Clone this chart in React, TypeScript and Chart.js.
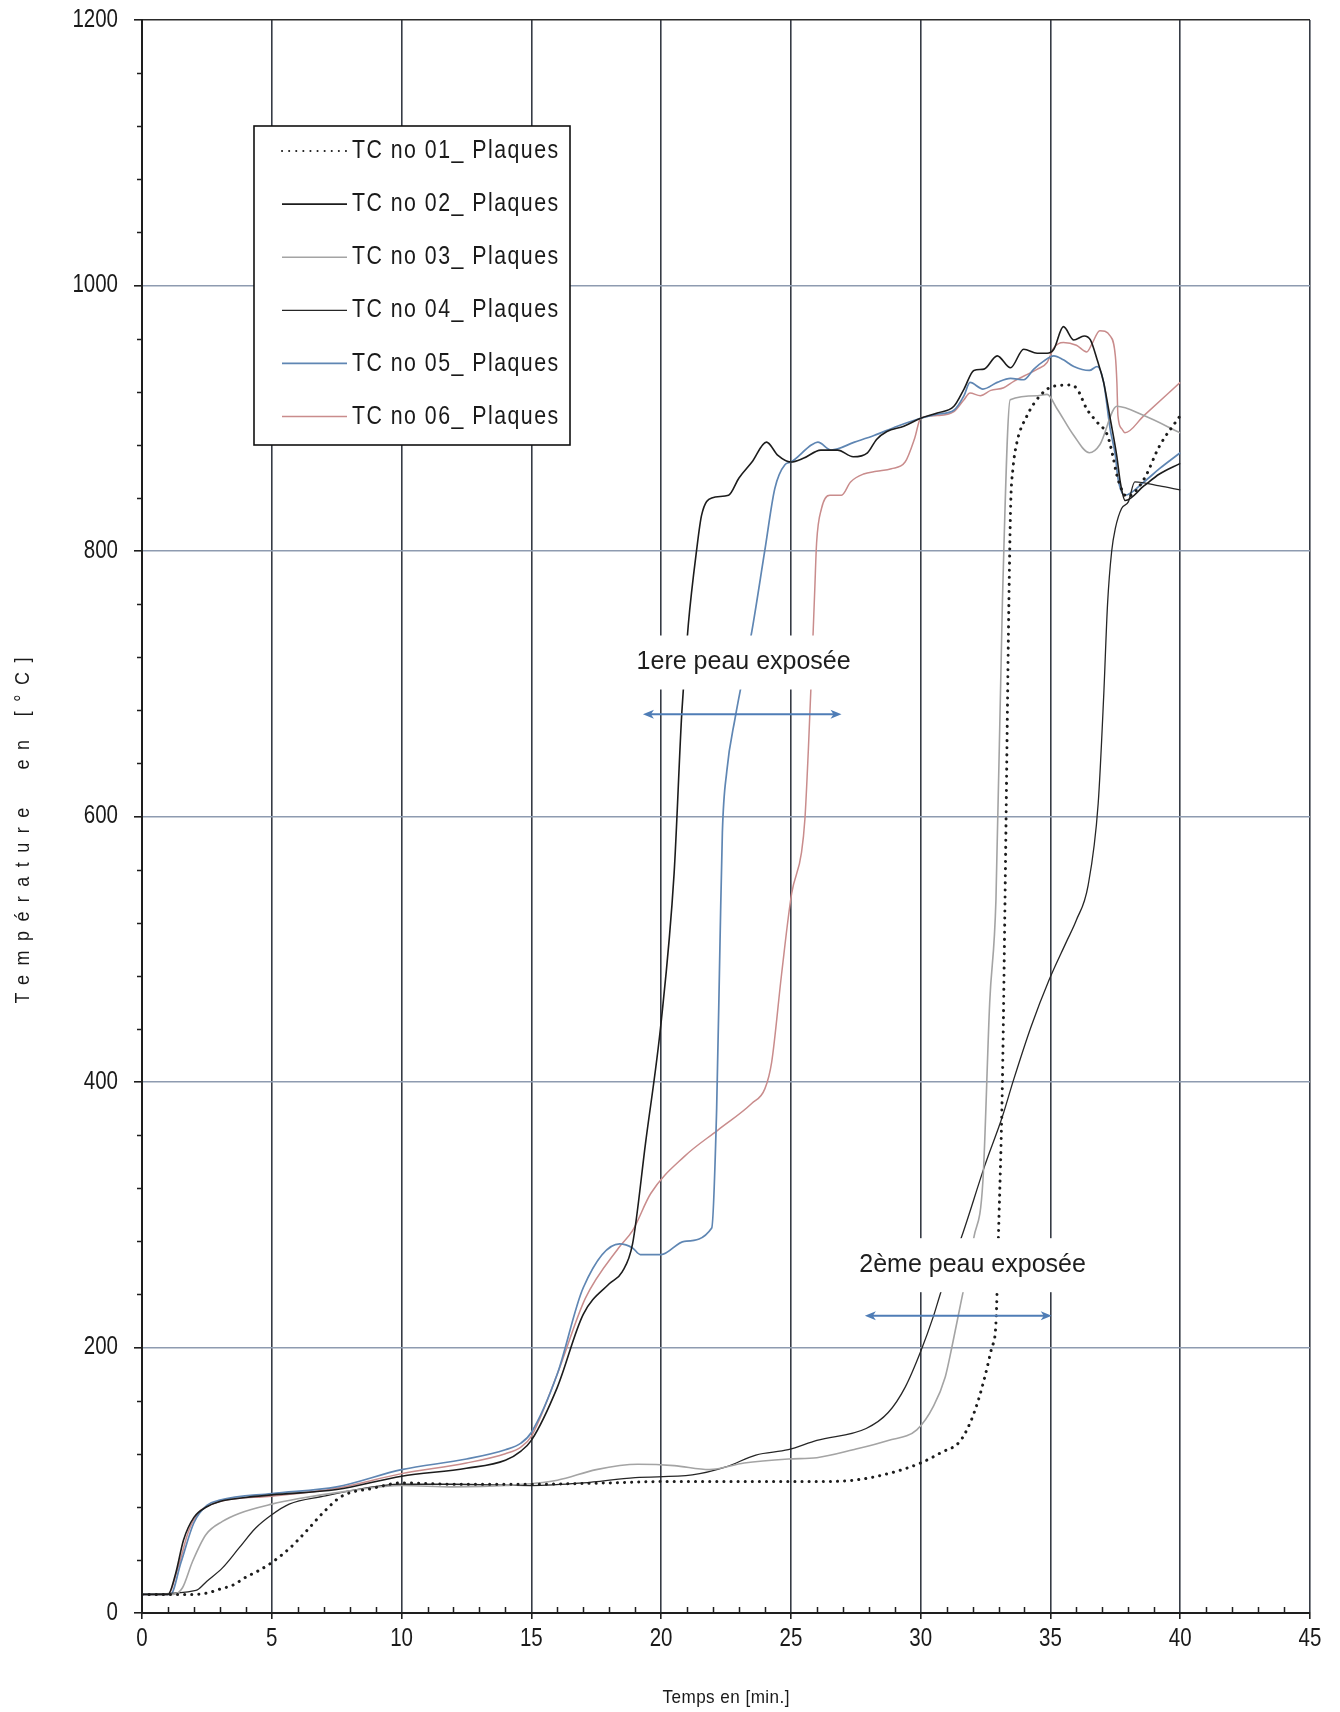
import React, { useEffect, useRef } from 'react';
import { Chart, registerables } from 'chart.js';

Chart.register(...registerables);

// ---- Series: time [min] / temperature [°C] ----
const tc01Time = [0, 1, 2, 2.5, 3, 3.5, 4, 4.5, 5, 5.7, 6.3, 7, 7.7, 8.9, 10, 12, 15, 18, 20, 24, 26, 27.4, 28.75, 30, 30.8, 31.5, 31.9, 32.2, 32.5, 32.74, 32.9, 33.0, 33.15, 33.25, 33.4, 33.47, 33.55, 33.7, 34.1, 34.6, 35.1, 35.77, 36.03, 36.4, 36.8, 37.2, 37.4, 37.56, 37.8, 37.95, 38.6, 39.2, 40];
const tc01Temp = [14, 14, 14, 15, 18, 21, 27, 32, 38, 49, 61, 76, 88, 94, 98, 97, 97, 98, 99, 99, 99, 100, 105, 113, 121, 129, 143, 159, 180, 200, 218, 286, 400, 537, 762, 836, 861, 881, 902, 917, 924, 925, 922, 907, 897, 887, 872, 857, 844, 841, 854, 879, 902];

const tc02Time = [0, 1, 1.3, 1.6, 2, 2.5, 3, 4, 5, 7.5, 10, 12.5, 14, 14.6, 15, 16, 17, 18, 18.5, 18.9, 19.4, 20, 20.5, 20.8, 21.05, 21.37, 21.56, 21.95, 22.6, 23, 23.5, 24.06, 24.5, 25, 25.5, 26.15, 26.8, 27.4, 27.95, 28.3, 28.7, 29.35, 30, 30.64, 31.28, 31.67, 32.05, 32.44, 32.95, 33.46, 33.97, 34.49, 34.87, 35.13, 35.5, 35.9, 36.3, 36.54, 36.8, 37.05, 37.3, 37.56, 37.69, 37.88, 38.6, 39.2, 40];
const tc02Temp = [14, 14, 30, 55, 72, 80, 84, 87, 89, 93, 103, 109, 115, 122, 130, 170, 225, 248, 257, 278, 354, 445, 557, 679, 745, 801, 827, 840, 842, 855, 867, 882, 872, 867, 870, 876, 876, 871, 874, 884, 890, 894, 900, 904, 909, 922, 936, 937, 947, 938, 952, 949, 949, 952, 969, 959, 962, 959, 944, 927, 900, 871, 852, 838, 849, 858, 866];

const tc03Time = [0, 1.2, 1.56, 1.95, 2.46, 3.1, 3.74, 5, 6, 8, 10, 12, 14, 16, 17.5, 19.1, 20.5, 21.86, 23.2, 24.9, 26, 27.4, 28.75, 29.85, 30.5, 30.95, 31.2, 31.5, 32.05, 32.4, 32.66, 32.9, 33.15, 33.45, 34.5, 34.87, 35.26, 35.9, 36.5, 36.9, 37.56, 38.6, 40];
const tc03Temp = [14, 14, 19, 39, 59, 69, 75, 82, 86, 92, 96, 95, 96, 100, 108, 112, 111, 108, 113, 116, 117, 123, 130, 138, 156, 178, 200, 229, 283, 326, 460, 537, 762, 914, 917, 918, 907, 887, 874, 880, 909, 902, 889];

const tc04Time = [0, 2.08, 2.5, 3.1, 3.74, 4.38, 5, 5.67, 7, 8, 10, 12, 15, 17, 19, 21.2, 22.5, 23.65, 24.9, 26, 27.9, 28.75, 29.4, 30, 30.5, 30.8, 31.57, 32.47, 33.15, 33.57, 34.26, 34.95, 35.6, 36.0, 36.45, 36.84, 37.05, 37.2, 37.36, 37.5, 37.74, 38, 38.25, 39.2, 40];
const tc04Temp = [14, 17, 24, 34, 49, 64, 74, 82, 88, 92, 97, 97, 96, 98, 102, 104, 110, 119, 123, 130, 139, 151, 170, 197, 224, 243, 283, 337, 374, 401, 442, 477, 505, 522, 548, 610, 690, 760, 800, 817, 832, 837, 852, 849, 846];

const tc05Time = [0, 1.1, 1.5, 2, 2.5, 3, 5, 7.5, 10, 12.5, 14, 14.6, 15, 16, 17, 18.4, 18.9, 19.2, 20, 20.9, 21.95, 22.14, 22.27, 22.36, 22.53, 22.85, 23.5, 24, 24.38, 24.77, 25, 25.8, 26.04, 26.55, 27.45, 28.2, 29.1, 30, 30.64, 31.28, 31.67, 31.9, 32.4, 32.95, 33.46, 33.97, 34.36, 34.74, 35.13, 35.5, 35.9, 36.5, 36.8, 37.05, 37.3, 37.5, 37.6, 37.87, 38.6, 39.2, 40];
const tc05Temp = [14, 14, 38, 68, 81, 85, 90, 95, 108, 116, 123, 128, 136, 180, 245, 278, 275, 270, 270, 280, 290, 380, 506, 588, 634, 674, 740, 801, 847, 865, 867, 880, 882, 876, 882, 887, 894, 900, 903, 906, 917, 927, 922, 927, 930, 929, 937, 943, 947, 944, 939, 936, 939, 927, 892, 872, 855, 842, 852, 862, 874];

const tc06Time = [0, 1, 1.4, 1.8, 2.2, 2.7, 3.2, 5, 7.5, 10, 12.5, 14, 14.6, 15, 16, 17.08, 18.36, 18.9, 19.6, 20.9, 22.2, 23.5, 24, 24.26, 24.64, 25.03, 25.41, 25.54, 25.67, 25.8, 25.92, 25.99, 26.18, 26.5, 26.95, 27.3, 27.8, 28.3, 28.87, 29.4, 29.77, 30, 30.64, 31.28, 31.67, 31.9, 32.3, 32.7, 33.2, 33.6, 34.0, 34.5, 34.87, 35.13, 35.5, 36.0, 36.4, 36.6, 36.9, 37.3, 37.5, 37.56, 37.6, 37.75, 37.87, 38.6, 40];
const tc06Temp = [14, 14, 35, 62, 76, 82, 85, 88, 94, 105, 113, 120, 125, 133, 180, 237, 275, 288, 316, 344, 364, 384, 395, 415, 481, 542, 573, 598, 649, 710, 771, 806, 832, 842, 842, 852, 858, 860, 862, 867, 885, 900, 902, 905, 914, 919, 917, 921, 923, 928, 932, 937, 942, 953, 957, 955, 950, 956, 966, 962, 947, 927, 902, 892, 889, 902, 927];

const seriesLabels = ['TC no 01_ Plaques', 'TC no 02_ Plaques', 'TC no 03_ Plaques', 'TC no 04_ Plaques', 'TC no 05_ Plaques', 'TC no 06_ Plaques'];

// ---- Axes ----
const xMin = 0, xMax = 45, xStep = 5, xMinorStep = 1;
const yMin = 0, yMax = 1200, yStep = 200, yMinorStep = 40;
const xTitle = 'Temps en [min.]';
const yTitle = 'Température  en [°C]';

// ---- Notes on the plot ----
const noteLabels = ['1ere peau exposée', '2ème peau exposée'];
const noteTextTime = [23.18, 32.0];
const noteTextTemp = [716, 262];
const noteArrowFrom = [19.3, 27.85];
const noteArrowTo = [26.95, 35.05];
const noteArrowTemp = [677, 224];

const SANS = '"Liberation Sans", Arial, sans-serif';

const toPoints = (t: number[], v: number[]) => t.map((x, i) => ({ x, y: v[i] }));

// Draws text with horizontally condensed glyphs (Arial Narrow look).
function drawCondensed(
  ctx: CanvasRenderingContext2D,
  text: string,
  x: number,
  y: number,
  size: number,
  squeeze: number,
  align: 'left' | 'center' | 'right',
  spacing = 0,
) {
  ctx.save();
  ctx.font = `${size}px ${SANS}`;
  (ctx as any).letterSpacing = `${spacing}px`;
  ctx.textAlign = 'left';
  ctx.textBaseline = 'middle';
  const w = (ctx.measureText(text).width - spacing) * squeeze;
  const x0 = align === 'center' ? x - w / 2 : align === 'right' ? x - w : x;
  ctx.translate(x0, y);
  ctx.scale(squeeze, 1);
  ctx.fillText(text, 0, 0);
  ctx.restore();
}

const tickLabels = {
  id: 'tickLabels',
  afterDraw(chart: any) {
    const { ctx, scales: { x, y } } = chart;
    ctx.save();
    ctx.fillStyle = '#1a1a1a';
    x.ticks.forEach((t: any) => {
      drawCondensed(ctx, String(t.value), x.getPixelForValue(t.value), y.bottom + 26, 25, 0.82, 'center');
    });
    y.ticks.forEach((t: any) => {
      drawCondensed(ctx, String(t.value), x.left - 24, y.getPixelForValue(t.value), 25, 0.82, 'right');
    });
    ctx.restore();
  },
};

const minorTicks = {
  id: 'minorTicks',
  afterDraw(chart: any) {
    const { ctx, scales: { x, y } } = chart;
    ctx.save();
    ctx.strokeStyle = '#1e1e1e';
    ctx.lineWidth = 1.5;
    ctx.beginPath();
    for (let v = xMin; v <= xMax; v += xMinorStep) {
      if (v % xStep === 0) continue;
      const px = Math.round(x.getPixelForValue(v)) + 0.5;
      ctx.moveTo(px, y.bottom);
      ctx.lineTo(px, y.bottom - 6);
    }
    for (let v = yMin; v <= yMax; v += yMinorStep) {
      if (v % yStep === 0) continue;
      const py = Math.round(y.getPixelForValue(v)) + 0.5;
      ctx.moveTo(x.left, py);
      ctx.lineTo(x.left - 5, py);
    }
    ctx.stroke();
    ctx.restore();
  },
};

const axisTitles = {
  id: 'axisTitles',
  afterDraw(chart: any) {
    const { ctx, chartArea } = chart;
    ctx.save();
    ctx.fillStyle = '#1a1a1a';
    drawCondensed(ctx, xTitle, (chartArea.left + chartArea.right) / 2, chartArea.bottom + 85, 19, 0.9, 'center', 0.5);
    ctx.translate(23, (chartArea.top + chartArea.bottom) / 2 + 14);
    ctx.rotate(-Math.PI / 2);
    drawCondensed(ctx, yTitle, 0, 0, 20, 0.9, 'center', 10.5);
    ctx.restore();
  },
};

const notes = {
  id: 'notes',
  afterDatasetsDraw(chart: any) {
    const { ctx, scales: { x, y } } = chart;
    ctx.save();
    noteLabels.forEach((label, i) => {
      ctx.font = `25px ${SANS}`;
      const tx = x.getPixelForValue(noteTextTime[i]);
      const ty = y.getPixelForValue(noteTextTemp[i]);
      const tw = ctx.measureText(label).width;
      ctx.fillStyle = '#ffffff';
      ctx.fillRect(tx - tw / 2 - 4, ty - 27, tw + 8, 54);
      ctx.fillStyle = '#1e1e1e';
      ctx.textAlign = 'center';
      ctx.textBaseline = 'middle';
      ctx.fillText(label, tx, ty);

      const x0 = x.getPixelForValue(noteArrowFrom[i]);
      const x1 = x.getPixelForValue(noteArrowTo[i]);
      const ay = y.getPixelForValue(noteArrowTemp[i]);
      ctx.strokeStyle = '#4f7db6';
      ctx.fillStyle = '#4f7db6';
      ctx.lineWidth = 2;
      ctx.beginPath();
      ctx.moveTo(x0 + 6, ay);
      ctx.lineTo(x1 - 6, ay);
      ctx.stroke();
      const head = (tip: number, dir: number) => {
        ctx.beginPath();
        ctx.moveTo(tip, ay);
        ctx.lineTo(tip - dir * 11, ay - 4.5);
        ctx.lineTo(tip - dir * 8, ay);
        ctx.lineTo(tip - dir * 11, ay + 4.5);
        ctx.closePath();
        ctx.fill();
      };
      head(x0, -1);
      head(x1, 1);
    });
    ctx.restore();
  },
};

const legendBox = {
  id: 'legendBox',
  afterDatasetsDraw(chart: any) {
    const { ctx, chartArea } = chart;
    const left = chartArea.left + 112;
    const top = chartArea.top + 106;
    const w = 316;
    const h = 319;
    ctx.save();
    ctx.fillStyle = '#ffffff';
    ctx.fillRect(left, top, w, h);
    ctx.strokeStyle = '#111111';
    ctx.lineWidth = 1.6;
    ctx.strokeRect(left, top, w, h);
    chart.data.datasets.forEach((ds: any, i: number) => {
      const ry = top + 25 + i * 53.1;
      ctx.beginPath();
      ctx.setLineDash(ds.borderDash || []);
      ctx.lineCap = ds.borderCapStyle || 'butt';
      ctx.strokeStyle = ds.borderColor;
      ctx.lineWidth = Math.min(ds.borderWidth, 2);
      ctx.moveTo(left + 28, ry);
      ctx.lineTo(left + 93, ry);
      ctx.stroke();
      ctx.setLineDash([]);
      ctx.fillStyle = '#1a1a1a';
      drawCondensed(ctx, ds.label, left + 98, ry, 26, 0.82, 'left', 1.8);
    });
    ctx.restore();
  },
};

export default function App() {
  const canvasRef = useRef<HTMLCanvasElement | null>(null);

  useEffect(() => {
    const canvas = canvasRef.current;
    if (!canvas) return;
    const line = (label: string, t: number[], v: number[], color: string, width: number, extra: any = {}) => ({
      label,
      data: toPoints(t, v),
      borderColor: color,
      backgroundColor: color,
      borderWidth: width,
      pointRadius: 0,
      fill: false,
      cubicInterpolationMode: 'monotone',
      ...extra,
    });
    const chart = new Chart(canvas, {
      type: 'line',
      data: {
        datasets: [
          line(seriesLabels[0], tc01Time, tc01Temp, '#1c1c1c', 3, { borderDash: [0.1, 7], borderCapStyle: 'round' }),
          line(seriesLabels[1], tc02Time, tc02Temp, '#1c1c1c', 1.6),
          line(seriesLabels[2], tc03Time, tc03Temp, '#a4a4a4', 1.6),
          line(seriesLabels[3], tc04Time, tc04Temp, '#262626', 1.3),
          line(seriesLabels[4], tc05Time, tc05Temp, '#5f86b3', 1.7),
          line(seriesLabels[5], tc06Time, tc06Temp, '#c98c8c', 1.5),
        ] as any,
      },
      options: {
        responsive: false,
        animation: false,
        layout: { padding: { left: 0, right: 30, top: 20, bottom: 0 } },
        plugins: { legend: { display: false }, tooltip: { enabled: false } },
        scales: {
          x: {
            type: 'linear',
            min: xMin,
            max: xMax,
            afterFit: (s: any) => { s.height = 99; },
            ticks: { stepSize: xStep, display: false },
            grid: {
              color: (c: any) => (c.tick && c.tick.value === xMin ? 'rgba(0,0,0,0)' : '#363b45'),
              lineWidth: 1.6,
              tickLength: 6,
              tickColor: '#1e1e1e',
            },
            border: { color: '#1e1e1e', width: 2 },
          },
          y: {
            type: 'linear',
            min: yMin,
            max: yMax,
            afterFit: (s: any) => { s.width = 142; },
            ticks: { stepSize: yStep, display: false },
            grid: {
              color: (c: any) => {
                const v = c.tick ? c.tick.value : 0;
                if (v === yMin) return 'rgba(0,0,0,0)';
                if (v === yMax) return '#2a2a2a';
                return '#8e9bb0';
              },
              lineWidth: 1.6,
              tickLength: 8,
              tickColor: '#1e1e1e',
            },
            border: { color: '#1e1e1e', width: 2 },
          },
        },
      } as any,
      plugins: [minorTicks, notes, legendBox, tickLabels, axisTitles],
    });
    return () => chart.destroy();
  }, []);

  return (
    <div style={{ position: 'absolute', left: 0, top: 0, width: 1340, height: 1712, background: '#ffffff' }}>
      <canvas ref={canvasRef} width={1340} height={1712} style={{ display: 'block' }} />
    </div>
  );
}
